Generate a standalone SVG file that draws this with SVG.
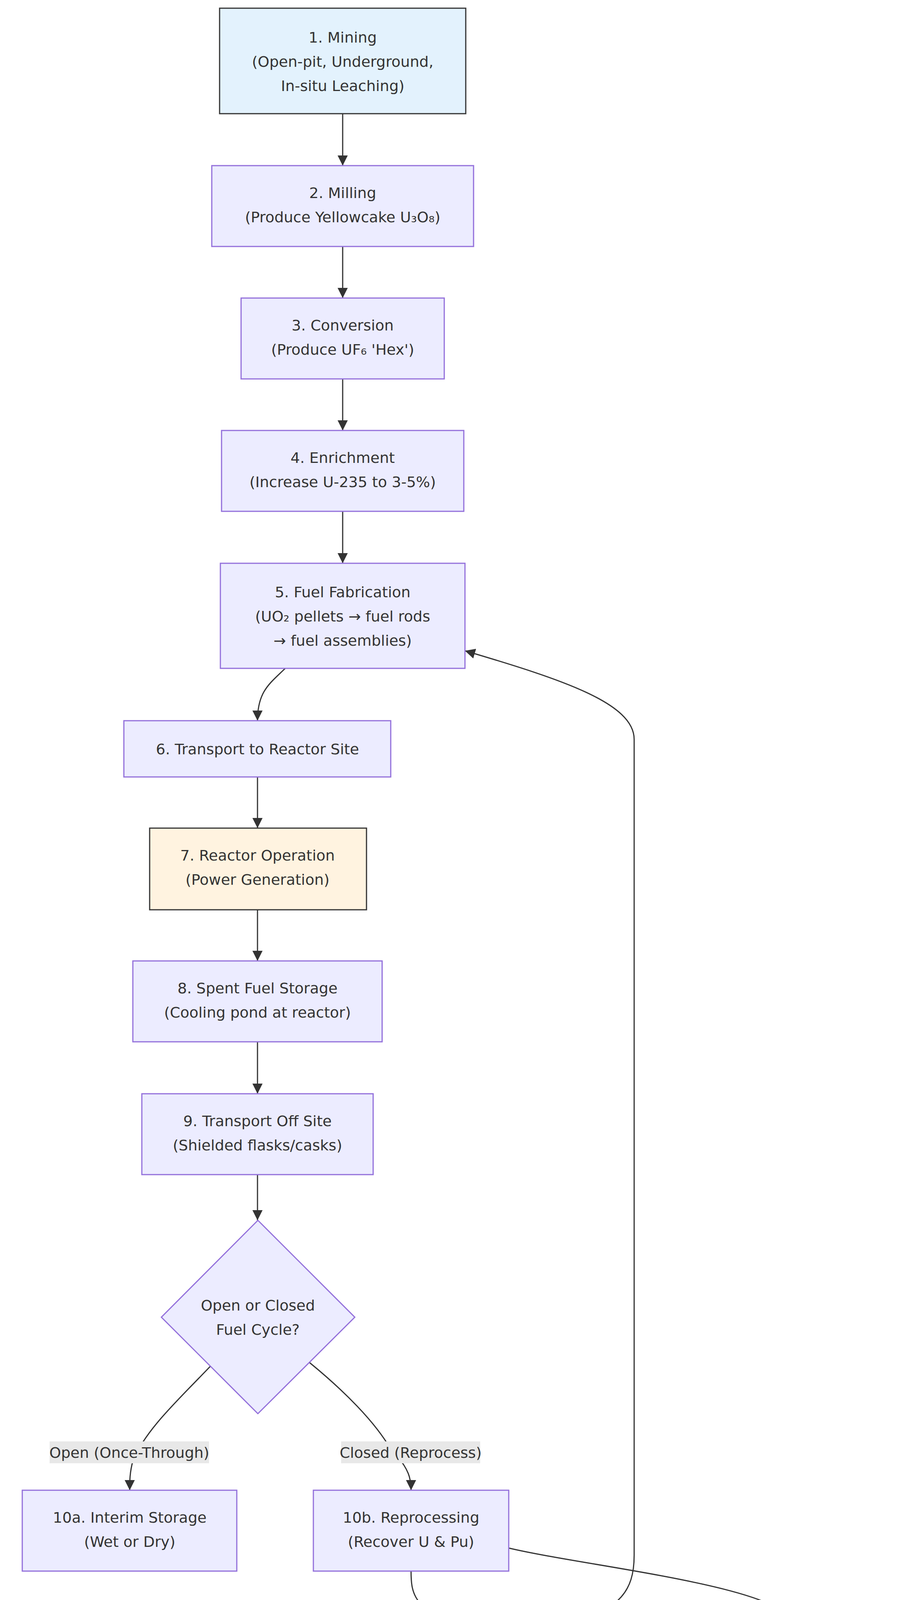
<svg xmlns="http://www.w3.org/2000/svg" width="2352" height="4422" viewBox="0 0 2352 4422">
<style>
.n{fill:#ECECFF;stroke:#9370DB;stroke-width:3}
.d{stroke:#333;stroke-width:3}
text{font-family:"DejaVu Sans","Liberation Sans",sans-serif;font-size:38px;fill:#333;text-anchor:middle}
.e{fill:none;stroke:#333;stroke-width:3;marker-end:url(#a)}
.lb{fill:#e8e8e8}
</style>
<defs><marker id="a" viewBox="0 0 10 10" refX="10" refY="5" markerWidth="26" markerHeight="26" orient="auto" markerUnits="userSpaceOnUse"><path d="M0,0L10,5L0,10z" fill="#333"/></marker></defs>
<rect width="2352" height="4422" fill="#fff"/>
<g id="edges">
<path class="e" d="M877,291V424"/>
<path class="e" d="M877,631V763"/>
<path class="e" d="M877,970V1102"/>
<path class="e" d="M877,1309V1442"/>
<path class="e" d="M730,1711C690,1750 659,1770 659,1845"/>
<path class="e" d="M659,1989V2120"/>
<path class="e" d="M659,2329V2460"/>
<path class="e" d="M659,2667V2800"/>
<path class="e" d="M659,3007V3124"/>
<path class="e" d="M538,3498C460,3580 372,3660 340,3740C332,3770 332,3790 332,3815"/>
<path class="e" d="M792,3488C880,3560 960,3640 1000,3710C1050,3760 1052,3790 1052,3815"/>
<path class="e" d="M1052,4022C1052,4080 1060,4100 1130,4155"/>
<path class="e" d="M1302,3963C1500,4010 2000,4060 2032,4155"/>
<path class="e" d="M1486,4155C1580,4110 1623,4080 1623,3981V1893C1623,1800 1440,1740 1190,1666"/>
</g>
<g id="n1"><rect x="562" y="21" width="630" height="270" fill="#e3f2fd" class="d"/><text x="877" y="109">1. Mining</text><text x="877" y="171">(Open-pit, Underground,</text><text x="877" y="233">In-situ Leaching)</text></g>
<g id="n2"><rect class="n" x="542" y="424" width="670" height="207"/><text x="877" y="507">2. Milling</text><text x="877" y="569">(Produce Yellowcake U₃O₈)</text></g>
<g id="n3"><rect class="n" x="617" y="763" width="520" height="207"/><text x="877" y="846">3. Conversion</text><text x="877" y="908">(Produce UF₆ 'Hex')</text></g>
<g id="n4"><rect class="n" x="567" y="1102" width="620" height="207"/><text x="877" y="1185">4. Enrichment</text><text x="877" y="1247">(Increase U-235 to 3-5%)</text></g>
<g id="n5"><rect class="n" x="564" y="1442" width="626" height="269"/><text x="877" y="1529">5. Fuel Fabrication</text><text x="877" y="1591">(UO₂ pellets → fuel rods</text><text x="877" y="1653">→ fuel assemblies)</text></g>
<g id="n6"><rect class="n" x="317" y="1845" width="683" height="144"/><text x="659" y="1931">6. Transport to Reactor Site</text></g>
<g id="n7"><rect x="383" y="2120" width="555" height="209" fill="#fff3e0" class="d"/><text x="659" y="2203">7. Reactor Operation</text><text x="659" y="2265">(Power Generation)</text></g>
<g id="n8"><rect class="n" x="340" y="2460" width="638" height="207"/><text x="659" y="2543">8. Spent Fuel Storage</text><text x="659" y="2605">(Cooling pond at reactor)</text></g>
<g id="n9"><rect class="n" x="363" y="2800" width="592" height="207"/><text x="659" y="2883">9. Transport Off Site</text><text x="659" y="2945">(Shielded flasks/casks)</text></g>
<g id="dec"><path class="n" d="M660,3124L908,3372L660,3619L413,3372Z"/><text x="660" y="3355">Open or Closed</text><text x="660" y="3417">Fuel Cycle?</text></g>
<g id="l1"><rect class="lb" x="127" y="3690" width="408" height="56"/><text x="331" y="3732">Open (Once-Through)</text></g>
<g id="l2"><rect class="lb" x="873" y="3690" width="356" height="56"/><text x="1051" y="3732">Closed (Reprocess)</text></g>
<g id="n10a"><rect class="n" x="57" y="3815" width="549" height="207"/><text x="332" y="3898">10a. Interim Storage</text><text x="332" y="3960">(Wet or Dry)</text></g>
<g id="n10b"><rect class="n" x="802" y="3815" width="500" height="207"/><text x="1052" y="3898">10b. Reprocessing</text><text x="1052" y="3960">(Recover U &amp; Pu)</text></g>
<g id="n11a"><rect x="21" y="4186" width="620" height="144" fill="#fde4e4" class="d"/><text x="331" y="4272">11a. Geological Disposal</text></g>
<g id="nrec"><rect class="n" x="929" y="4155" width="682" height="207"/><text x="1270" y="4238">Recovered U &amp; Pu</text><text x="1270" y="4300">recycled to fuel fabrication</text></g>
<g id="n11b"><rect x="1744" y="4155" width="576" height="207" fill="#fde4e4" class="d"/><text x="2032" y="4238">11b. HLW Vitrification</text><text x="2032" y="4300">&amp; Geological Disposal</text></g>
</svg>
